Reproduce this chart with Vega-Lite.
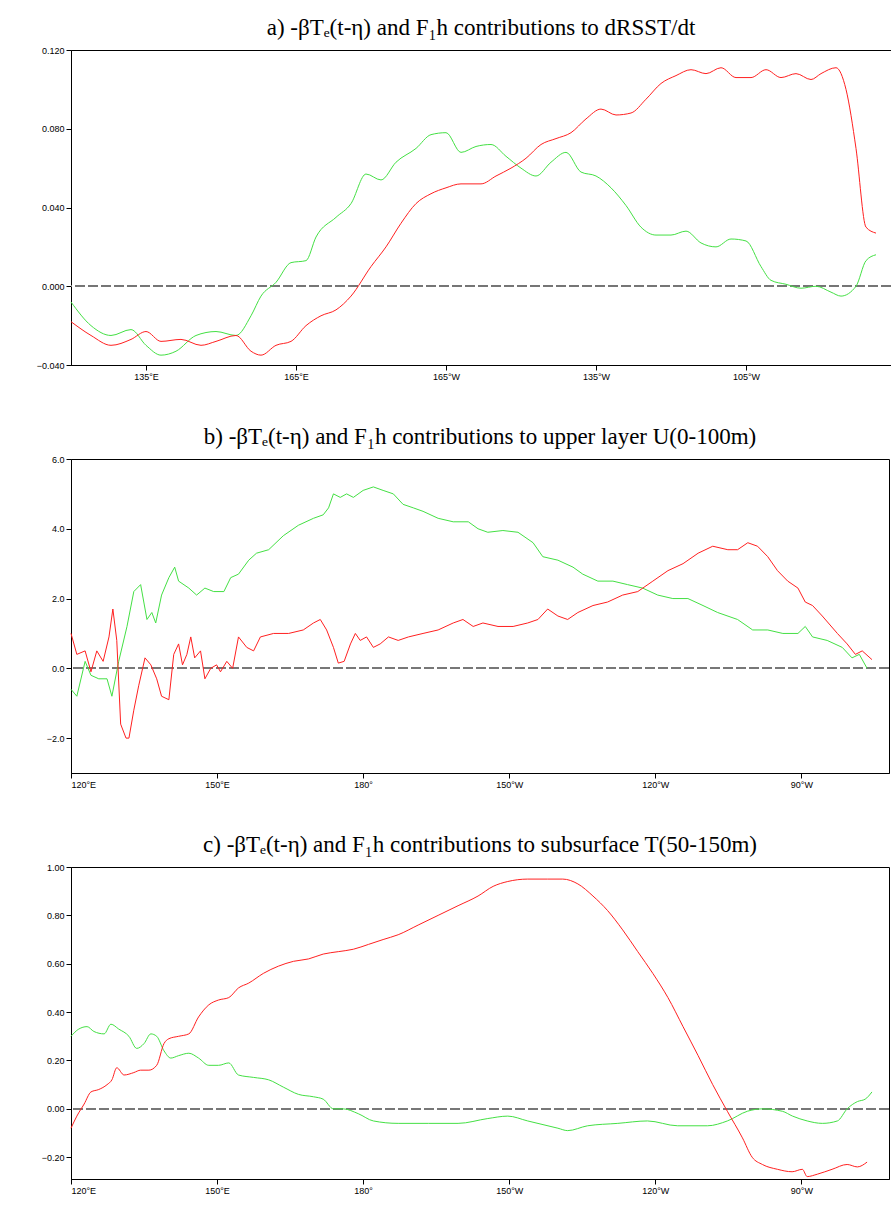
{
  "$schema": "https://vega.github.io/schema/vega-lite/v6.json",
  "padding": {"left": 0, "right": 1, "top": 16, "bottom": 2},
  "spacing": 43,
  "config": {
    "view": {"stroke": "black", "strokeWidth": 1},
    "axis": {"grid": false, "domainColor": "black", "tickColor": "black", "labelFont": "Liberation Sans", "labelFontSize": 9, "labelColor": "black", "title": null},
    "axisY": {"minExtent": 70, "maxExtent": 70},
    "title": {"font": "Liberation Serif", "fontSize": 23, "fontWeight": "normal", "color": "black", "offset": 6}
  },
  "datasets": {
    "a": [
      {"s":"g","x":120,"y":-0.008},{"s":"g","x":124,"y":-0.02},{"s":"g","x":128,"y":-0.025},{"s":"g","x":132,"y":-0.022},{"s":"g","x":135,"y":-0.03},{"s":"g","x":138,"y":-0.035},{"s":"g","x":141,"y":-0.033},{"s":"g","x":145,"y":-0.025},{"s":"g","x":149,"y":-0.023},{"s":"g","x":153,"y":-0.025},{"s":"g","x":156,"y":-0.015},{"s":"g","x":158,"y":-0.005},{"s":"g","x":161,"y":0.002},{"s":"g","x":164,"y":0.012},{"s":"g","x":167,"y":0.013},{"s":"g","x":169,"y":0.025},{"s":"g","x":173,"y":0.035},{"s":"g","x":176,"y":0.042},{"s":"g","x":179,"y":0.057},{"s":"g","x":182,"y":0.054},{"s":"g","x":185,"y":0.063},{"s":"g","x":189,"y":0.07},{"s":"g","x":192,"y":0.077},{"s":"g","x":195,"y":0.078},{"s":"g","x":198,"y":0.068},{"s":"g","x":201,"y":0.071},{"s":"g","x":204,"y":0.072},{"s":"g","x":207,"y":0.066},{"s":"g","x":210,"y":0.06},{"s":"g","x":213,"y":0.056},{"s":"g","x":216,"y":0.063},{"s":"g","x":219,"y":0.068},{"s":"g","x":222,"y":0.058},{"s":"g","x":225,"y":0.056},{"s":"g","x":228,"y":0.05},{"s":"g","x":231,"y":0.041},{"s":"g","x":234,"y":0.03},{"s":"g","x":237,"y":0.026},{"s":"g","x":240,"y":0.026},{"s":"g","x":243,"y":0.028},{"s":"g","x":246,"y":0.022},{"s":"g","x":249,"y":0.02},{"s":"g","x":252,"y":0.024},{"s":"g","x":255,"y":0.023},{"s":"g","x":258,"y":0.01},{"s":"g","x":260,"y":0.003},{"s":"g","x":263,"y":0.001},{"s":"g","x":266,"y":-0.001},{"s":"g","x":269,"y":0.0},{"s":"g","x":272,"y":-0.003},{"s":"g","x":274,"y":-0.005},{"s":"g","x":277,"y":0.0},{"s":"g","x":279,"y":0.013},{"s":"g","x":281,"y":0.016},
      {"s":"r","x":120,"y":-0.018},{"s":"r","x":124,"y":-0.025},{"s":"r","x":128,"y":-0.03},{"s":"r","x":132,"y":-0.027},{"s":"r","x":135,"y":-0.023},{"s":"r","x":138,"y":-0.028},{"s":"r","x":142,"y":-0.027},{"s":"r","x":146,"y":-0.03},{"s":"r","x":149,"y":-0.028},{"s":"r","x":153,"y":-0.025},{"s":"r","x":156,"y":-0.033},{"s":"r","x":158,"y":-0.035},{"s":"r","x":161,"y":-0.03},{"s":"r","x":164,"y":-0.028},{"s":"r","x":167,"y":-0.02},{"s":"r","x":170,"y":-0.015},{"s":"r","x":173,"y":-0.012},{"s":"r","x":176,"y":-0.005},{"s":"r","x":180,"y":0.01},{"s":"r","x":183,"y":0.02},{"s":"r","x":186,"y":0.032},{"s":"r","x":189,"y":0.042},{"s":"r","x":192,"y":0.047},{"s":"r","x":195,"y":0.05},{"s":"r","x":198,"y":0.052},{"s":"r","x":202,"y":0.052},{"s":"r","x":205,"y":0.056},{"s":"r","x":208,"y":0.06},{"s":"r","x":211,"y":0.065},{"s":"r","x":214,"y":0.072},{"s":"r","x":217,"y":0.075},{"s":"r","x":220,"y":0.078},{"s":"r","x":223,"y":0.085},{"s":"r","x":226,"y":0.09},{"s":"r","x":229,"y":0.087},{"s":"r","x":232,"y":0.088},{"s":"r","x":235,"y":0.095},{"s":"r","x":238,"y":0.103},{"s":"r","x":241,"y":0.107},{"s":"r","x":244,"y":0.11},{"s":"r","x":247,"y":0.108},{"s":"r","x":250,"y":0.111},{"s":"r","x":253,"y":0.106},{"s":"r","x":256,"y":0.106},{"s":"r","x":259,"y":0.11},{"s":"r","x":262,"y":0.106},{"s":"r","x":265,"y":0.108},{"s":"r","x":268,"y":0.105},{"s":"r","x":270,"y":0.108},{"s":"r","x":273,"y":0.111},{"s":"r","x":275,"y":0.1},{"s":"r","x":277,"y":0.07},{"s":"r","x":279,"y":0.03},{"s":"r","x":281,"y":0.027}
    ],
    "b": [
      {"s":"g","x":120,"y":-0.6},{"s":"g","x":121.2,"y":-0.8},{"s":"g","x":122.9,"y":0.2},{"s":"g","x":124.1,"y":-0.2},{"s":"g","x":125.7,"y":-0.3},{"s":"g","x":127.4,"y":-0.3},{"s":"g","x":128.4,"y":-0.8},{"s":"g","x":129.8,"y":0.2},{"s":"g","x":131.5,"y":1.2},{"s":"g","x":132.9,"y":2.2},{"s":"g","x":134.3,"y":2.4},{"s":"g","x":135.6,"y":1.4},{"s":"g","x":136.6,"y":1.6},{"s":"g","x":137.4,"y":1.3},{"s":"g","x":138.6,"y":2.1},{"s":"g","x":140.1,"y":2.6},{"s":"g","x":141.3,"y":2.9},{"s":"g","x":142.1,"y":2.5},{"s":"g","x":144.2,"y":2.3},{"s":"g","x":145.8,"y":2.1},{"s":"g","x":147.5,"y":2.3},{"s":"g","x":149.3,"y":2.2},{"s":"g","x":151.4,"y":2.2},{"s":"g","x":152.8,"y":2.6},{"s":"g","x":154.4,"y":2.7},{"s":"g","x":156.5,"y":3.1},{"s":"g","x":158.1,"y":3.3},{"s":"g","x":160.6,"y":3.4},{"s":"g","x":163.6,"y":3.8},{"s":"g","x":166.7,"y":4.1},{"s":"g","x":169.8,"y":4.3},{"s":"g","x":171.8,"y":4.4},{"s":"g","x":172.9,"y":4.6},{"s":"g","x":173.9,"y":5.0},{"s":"g","x":175.3,"y":4.9},{"s":"g","x":176.6,"y":5.0},{"s":"g","x":178,"y":4.9},{"s":"g","x":180,"y":5.1},{"s":"g","x":182.1,"y":5.2},{"s":"g","x":184.1,"y":5.1},{"s":"g","x":186.2,"y":5.0},{"s":"g","x":188.2,"y":4.7},{"s":"g","x":190.3,"y":4.6},{"s":"g","x":192.3,"y":4.5},{"s":"g","x":195.4,"y":4.3},{"s":"g","x":198.5,"y":4.2},{"s":"g","x":201.6,"y":4.2},{"s":"g","x":203.6,"y":4.0},{"s":"g","x":205.6,"y":3.9},{"s":"g","x":208.7,"y":3.95},{"s":"g","x":211.8,"y":3.9},{"s":"g","x":214.9,"y":3.6},{"s":"g","x":216.9,"y":3.2},{"s":"g","x":220,"y":3.1},{"s":"g","x":223.1,"y":2.9},{"s":"g","x":225.1,"y":2.7},{"s":"g","x":228.2,"y":2.5},{"s":"g","x":231.3,"y":2.5},{"s":"g","x":234.3,"y":2.4},{"s":"g","x":237.4,"y":2.3},{"s":"g","x":240.5,"y":2.1},{"s":"g","x":243.6,"y":2.0},{"s":"g","x":246.7,"y":2.0},{"s":"g","x":249.8,"y":1.8},{"s":"g","x":252.8,"y":1.6},{"s":"g","x":256.9,"y":1.4},{"s":"g","x":260,"y":1.1},{"s":"g","x":263.1,"y":1.1},{"s":"g","x":266.2,"y":1.0},{"s":"g","x":269.3,"y":1.0},{"s":"g","x":270.8,"y":1.2},{"s":"g","x":272.3,"y":0.9},{"s":"g","x":275.3,"y":0.8},{"s":"g","x":278.4,"y":0.6},{"s":"g","x":280.4,"y":0.3},{"s":"g","x":281.9,"y":0.4},{"s":"g","x":283.5,"y":0.0},
      {"s":"r","x":120,"y":1.0},{"s":"r","x":121.2,"y":0.4},{"s":"r","x":122.9,"y":0.5},{"s":"r","x":124.1,"y":-0.1},{"s":"r","x":125.3,"y":0.5},{"s":"r","x":126.6,"y":0.2},{"s":"r","x":127.8,"y":0.9},{"s":"r","x":128.6,"y":1.7},{"s":"r","x":129.4,"y":0.8},{"s":"r","x":130.2,"y":-1.6},{"s":"r","x":131.3,"y":-2.0},{"s":"r","x":131.9,"y":-2.0},{"s":"r","x":132.9,"y":-1.2},{"s":"r","x":133.9,"y":-0.5},{"s":"r","x":135.2,"y":0.3},{"s":"r","x":136.4,"y":0.1},{"s":"r","x":137.6,"y":-0.3},{"s":"r","x":138.6,"y":-0.8},{"s":"r","x":140.1,"y":-0.9},{"s":"r","x":141.1,"y":0.4},{"s":"r","x":142.1,"y":0.7},{"s":"r","x":142.9,"y":0.1},{"s":"r","x":143.8,"y":0.4},{"s":"r","x":144.6,"y":0.9},{"s":"r","x":145.4,"y":0.3},{"s":"r","x":146.6,"y":0.5},{"s":"r","x":147.5,"y":-0.3},{"s":"r","x":148.7,"y":0.0},{"s":"r","x":149.9,"y":0.1},{"s":"r","x":150.7,"y":-0.1},{"s":"r","x":152,"y":0.2},{"s":"r","x":153.2,"y":0.0},{"s":"r","x":154.4,"y":0.9},{"s":"r","x":156.1,"y":0.6},{"s":"r","x":157.5,"y":0.5},{"s":"r","x":158.9,"y":0.9},{"s":"r","x":161.6,"y":1.0},{"s":"r","x":164.7,"y":1.0},{"s":"r","x":167.7,"y":1.1},{"s":"r","x":169.8,"y":1.3},{"s":"r","x":171.2,"y":1.4},{"s":"r","x":172.5,"y":1.1},{"s":"r","x":173.9,"y":0.6},{"s":"r","x":174.9,"y":0.15},{"s":"r","x":176.1,"y":0.2},{"s":"r","x":177.4,"y":0.7},{"s":"r","x":178.4,"y":1.0},{"s":"r","x":179.4,"y":0.8},{"s":"r","x":180.7,"y":0.9},{"s":"r","x":182.1,"y":0.6},{"s":"r","x":183.5,"y":0.7},{"s":"r","x":185.2,"y":0.9},{"s":"r","x":187.2,"y":0.8},{"s":"r","x":189.3,"y":0.9},{"s":"r","x":192.3,"y":1.0},{"s":"r","x":195.4,"y":1.1},{"s":"r","x":198.5,"y":1.3},{"s":"r","x":200.5,"y":1.4},{"s":"r","x":202.6,"y":1.2},{"s":"r","x":204.6,"y":1.3},{"s":"r","x":207.7,"y":1.2},{"s":"r","x":210.8,"y":1.2},{"s":"r","x":213.8,"y":1.3},{"s":"r","x":215.9,"y":1.4},{"s":"r","x":217.9,"y":1.7},{"s":"r","x":220,"y":1.5},{"s":"r","x":222,"y":1.4},{"s":"r","x":224.1,"y":1.6},{"s":"r","x":227.2,"y":1.8},{"s":"r","x":230.2,"y":1.9},{"s":"r","x":233.3,"y":2.1},{"s":"r","x":236.4,"y":2.2},{"s":"r","x":239.5,"y":2.5},{"s":"r","x":242.6,"y":2.8},{"s":"r","x":245.7,"y":3.0},{"s":"r","x":248.8,"y":3.3},{"s":"r","x":251.8,"y":3.5},{"s":"r","x":254.9,"y":3.4},{"s":"r","x":256.9,"y":3.4},{"s":"r","x":259,"y":3.6},{"s":"r","x":261,"y":3.5},{"s":"r","x":263.1,"y":3.2},{"s":"r","x":265.1,"y":2.8},{"s":"r","x":267.2,"y":2.5},{"s":"r","x":269.3,"y":2.3},{"s":"r","x":270.8,"y":1.9},{"s":"r","x":272.3,"y":1.8},{"s":"r","x":274.3,"y":1.5},{"s":"r","x":277.4,"y":1.0},{"s":"r","x":279.4,"y":0.7},{"s":"r","x":281.1,"y":0.4},{"s":"r","x":282.5,"y":0.5},{"s":"r","x":284.5,"y":0.25}
    ],
    "c": [
      {"s":"g","x":120,"y":0.30},{"s":"g","x":121.6,"y":0.33},{"s":"g","x":123.3,"y":0.34},{"s":"g","x":124.7,"y":0.32},{"s":"g","x":126.8,"y":0.31},{"s":"g","x":128.2,"y":0.35},{"s":"g","x":129.8,"y":0.33},{"s":"g","x":131.9,"y":0.30},{"s":"g","x":133.5,"y":0.25},{"s":"g","x":135,"y":0.27},{"s":"g","x":136.4,"y":0.31},{"s":"g","x":137.6,"y":0.30},{"s":"g","x":139.1,"y":0.24},{"s":"g","x":140.5,"y":0.21},{"s":"g","x":142.1,"y":0.22},{"s":"g","x":144.2,"y":0.23},{"s":"g","x":146.2,"y":0.21},{"s":"g","x":148.3,"y":0.18},{"s":"g","x":150.3,"y":0.18},{"s":"g","x":152.4,"y":0.19},{"s":"g","x":154.4,"y":0.14},{"s":"g","x":157.5,"y":0.13},{"s":"g","x":160.6,"y":0.12},{"s":"g","x":163.6,"y":0.09},{"s":"g","x":166.7,"y":0.06},{"s":"g","x":169.8,"y":0.05},{"s":"g","x":171.8,"y":0.04},{"s":"g","x":173.9,"y":0.0},{"s":"g","x":175.9,"y":0.0},{"s":"g","x":179,"y":-0.02},{"s":"g","x":182.1,"y":-0.05},{"s":"g","x":187.2,"y":-0.06},{"s":"g","x":193.4,"y":-0.06},{"s":"g","x":199.5,"y":-0.06},{"s":"g","x":205.6,"y":-0.04},{"s":"g","x":209.7,"y":-0.03},{"s":"g","x":213.8,"y":-0.05},{"s":"g","x":220,"y":-0.08},{"s":"g","x":222,"y":-0.09},{"s":"g","x":226.1,"y":-0.07},{"s":"g","x":232.3,"y":-0.06},{"s":"g","x":238.4,"y":-0.05},{"s":"g","x":244.6,"y":-0.07},{"s":"g","x":250.7,"y":-0.07},{"s":"g","x":254.8,"y":-0.05},{"s":"g","x":258.9,"y":-0.01},{"s":"g","x":262,"y":0.0},{"s":"g","x":266.1,"y":-0.01},{"s":"g","x":268.2,"y":-0.03},{"s":"g","x":271.2,"y":-0.05},{"s":"g","x":274.3,"y":-0.06},{"s":"g","x":277.4,"y":-0.05},{"s":"g","x":279.4,"y":0.0},{"s":"g","x":281.5,"y":0.03},{"s":"g","x":283.1,"y":0.04},{"s":"g","x":284.5,"y":0.07},
      {"s":"r","x":120,"y":-0.08},{"s":"r","x":121.2,"y":-0.03},{"s":"r","x":122.7,"y":0.02},{"s":"r","x":124.1,"y":0.07},{"s":"r","x":125.7,"y":0.08},{"s":"r","x":127.4,"y":0.10},{"s":"r","x":128.4,"y":0.12},{"s":"r","x":129.4,"y":0.17},{"s":"r","x":130.9,"y":0.14},{"s":"r","x":132.9,"y":0.15},{"s":"r","x":134.3,"y":0.16},{"s":"r","x":136,"y":0.16},{"s":"r","x":137.6,"y":0.18},{"s":"r","x":139.1,"y":0.27},{"s":"r","x":140.1,"y":0.29},{"s":"r","x":142.1,"y":0.30},{"s":"r","x":144.2,"y":0.31},{"s":"r","x":146.2,"y":0.38},{"s":"r","x":148.3,"y":0.43},{"s":"r","x":150.3,"y":0.45},{"s":"r","x":152.4,"y":0.46},{"s":"r","x":154.4,"y":0.50},{"s":"r","x":156.5,"y":0.52},{"s":"r","x":159.5,"y":0.56},{"s":"r","x":162.6,"y":0.59},{"s":"r","x":165.7,"y":0.61},{"s":"r","x":168.8,"y":0.62},{"s":"r","x":171.8,"y":0.64},{"s":"r","x":174.9,"y":0.65},{"s":"r","x":178,"y":0.66},{"s":"r","x":181.1,"y":0.68},{"s":"r","x":184.1,"y":0.70},{"s":"r","x":187.2,"y":0.72},{"s":"r","x":191.3,"y":0.76},{"s":"r","x":195.4,"y":0.80},{"s":"r","x":199.5,"y":0.84},{"s":"r","x":203.6,"y":0.88},{"s":"r","x":206.7,"y":0.92},{"s":"r","x":209.7,"y":0.94},{"s":"r","x":213.8,"y":0.95},{"s":"r","x":217.9,"y":0.95},{"s":"r","x":221,"y":0.95},{"s":"r","x":224.1,"y":0.93},{"s":"r","x":227.2,"y":0.88},{"s":"r","x":230.2,"y":0.82},{"s":"r","x":233.3,"y":0.74},{"s":"r","x":236.4,"y":0.65},{"s":"r","x":239.5,"y":0.56},{"s":"r","x":242.6,"y":0.46},{"s":"r","x":245.7,"y":0.34},{"s":"r","x":248.8,"y":0.22},{"s":"r","x":251.8,"y":0.10},{"s":"r","x":254.8,"y":-0.01},{"s":"r","x":257.9,"y":-0.12},{"s":"r","x":259.9,"y":-0.20},{"s":"r","x":262,"y":-0.23},{"s":"r","x":265.1,"y":-0.25},{"s":"r","x":268.1,"y":-0.26},{"s":"r","x":270.2,"y":-0.25},{"s":"r","x":271.2,"y":-0.28},{"s":"r","x":273.3,"y":-0.27},{"s":"r","x":276.3,"y":-0.25},{"s":"r","x":279.4,"y":-0.23},{"s":"r","x":281.5,"y":-0.24},{"s":"r","x":283.5,"y":-0.22}
    ]
  },
  "vconcat": [
    {
      "title": "a) -βTₑ(t-η) and F₁h contributions to dRSST/dt",
      "width": 820, "height": 315,
      "data": {"name": "a"},
      "layer": [
        {"mark": {"type": "rule", "color": "#777777", "strokeDash": [10, 3], "strokeWidth": 1}, "encoding": {"y": {"datum": 0, "type": "quantitative"}}},
        {"mark": {"type": "line", "strokeWidth": 1, "interpolate": "monotone"},
         "encoding": {
           "x": {"field": "x", "type": "quantitative", "scale": {"domain": [120, 284], "nice": false, "zero": false},
                 "axis": {"values": [135, 165, 195, 225, 255], "labelExpr": "datum.value < 180 ? datum.value + '°E' : (datum.value == 180 ? '180°' : (360 - datum.value) + '°W')"}},
           "y": {"field": "y", "type": "quantitative", "scale": {"domain": [-0.04, 0.12], "nice": false}, "axis": {"values": [-0.04, 0, 0.04, 0.08, 0.12], "format": ".3f"}},
           "color": {"field": "s", "type": "nominal", "scale": {"domain": ["g", "r"], "range": ["#44e044", "#ff2020"]}, "legend": null}
         }}
      ]
    },
    {
      "title": "b) -βTₑ(t-η) and F₁h contributions to upper layer U(0-100m)",
      "width": 818, "height": 314,
      "data": {"name": "b"},
      "layer": [
        {"mark": {"type": "rule", "color": "#777777", "strokeDash": [10, 3], "strokeWidth": 1}, "encoding": {"y": {"datum": 0, "type": "quantitative"}}},
        {"mark": {"type": "line", "strokeWidth": 1},
         "encoding": {
           "x": {"field": "x", "type": "quantitative", "scale": {"domain": [120, 288], "nice": false, "zero": false},
                 "axis": {"values": [120, 150, 180, 210, 240, 270], "labelExpr": "datum.value < 180 ? datum.value + '°E' : (datum.value == 180 ? '180°' : (360 - datum.value) + '°W')"}},
           "y": {"field": "y", "type": "quantitative", "scale": {"domain": [-3, 6], "nice": false}, "axis": {"values": [-2, 0, 2, 4, 6], "format": ".1f"}},
           "color": {"field": "s", "type": "nominal", "scale": {"domain": ["g", "r"], "range": ["#44e044", "#ff2020"]}, "legend": null}
         }}
      ]
    },
    {
      "title": "c) -βTₑ(t-η) and F₁h contributions to subsurface T(50-150m)",
      "width": 818, "height": 312,
      "data": {"name": "c"},
      "layer": [
        {"mark": {"type": "rule", "color": "#777777", "strokeDash": [10, 3], "strokeWidth": 1}, "encoding": {"y": {"datum": 0, "type": "quantitative"}}},
        {"mark": {"type": "line", "strokeWidth": 1, "interpolate": "monotone"},
         "encoding": {
           "x": {"field": "x", "type": "quantitative", "scale": {"domain": [120, 288], "nice": false, "zero": false},
                 "axis": {"values": [120, 150, 180, 210, 240, 270], "labelExpr": "datum.value < 180 ? datum.value + '°E' : (datum.value == 180 ? '180°' : (360 - datum.value) + '°W')"}},
           "y": {"field": "y", "type": "quantitative", "scale": {"domain": [-0.29, 1.0], "nice": false}, "axis": {"values": [-0.2, 0, 0.2, 0.4, 0.6, 0.8, 1.0], "format": ".2f"}},
           "color": {"field": "s", "type": "nominal", "scale": {"domain": ["g", "r"], "range": ["#44e044", "#ff2020"]}, "legend": null}
         }}
      ]
    }
  ]
}
